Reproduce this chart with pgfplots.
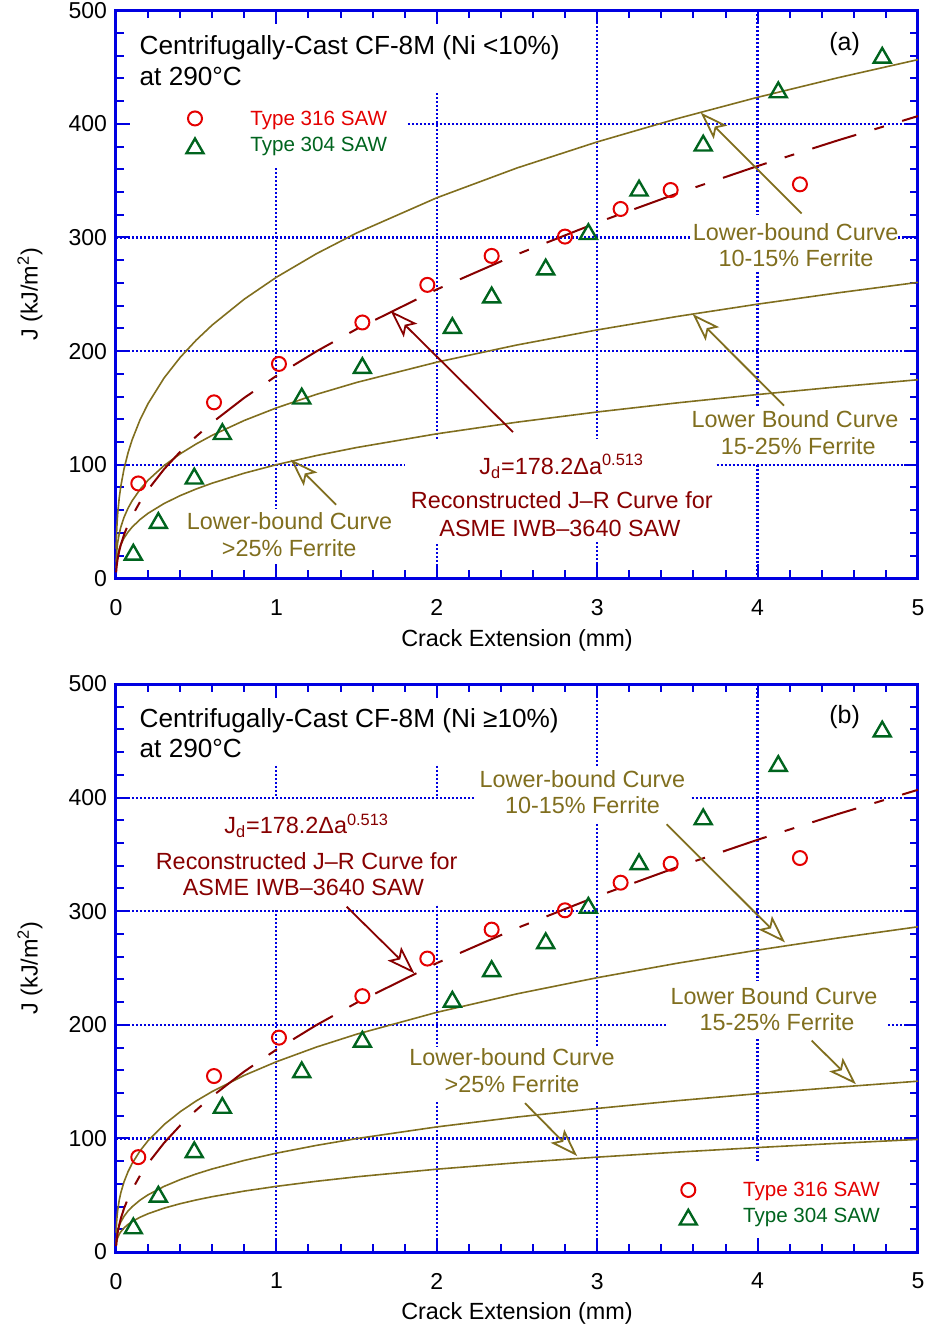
\documentclass[border=0pt]{standalone}
\usepackage{fontspec}
\setmainfont{Liberation Sans}
\usepackage{pgfplots}
\usepackage{pgfplotstable}
\pgfplotsset{compat=1.18}
\usetikzlibrary{arrows.meta}
\definecolor{myblue}{RGB}{0,0,225}
\definecolor{myred}{RGB}{228,0,0}
\definecolor{mygreen}{RGB}{0,100,30}
\definecolor{myolive}{RGB}{128,110,30}
\definecolor{mydred}{RGB}{135,0,0}

\pgfplotstableread{
x jr a b c d e f
0.001 5.15 25.66 14.03 9.10 16.79 8.31 5.72
0.002 7.35 32.43 17.80 11.57 21.15 10.52 7.21
0.005 11.76 44.21 24.37 15.91 28.69 14.36 9.80
0.01 16.78 55.88 30.91 20.23 36.14 18.18 12.36
0.02 23.95 70.62 39.21 25.73 45.53 23.01 15.59
0.03 29.49 81.01 45.05 29.62 52.10 26.41 17.85
0.05 38.32 96.28 53.68 35.36 61.77 31.42 21.19
0.075 47.18 110.42 61.69 40.71 70.70 36.06 24.27
0.1 54.69 121.68 68.09 44.98 77.80 39.77 26.73
0.15 67.34 139.56 78.25 51.77 89.06 45.65 30.61
0.2 78.05 153.81 86.37 57.21 98.01 50.34 33.71
0.3 96.09 176.39 99.25 65.85 112.18 57.77 38.62
0.4 111.38 194.42 109.55 72.76 123.46 63.71 42.52
0.5 124.87 209.65 118.26 78.62 132.98 68.73 45.82
0.6 137.13 222.97 125.89 83.76 141.30 73.13 48.71
0.8 158.92 245.75 138.95 92.55 155.51 80.64 53.64
1 178.2 265 150 100 167.5 87 57.8
1.25 199.81 285.75 161.93 108.05 180.42 93.86 62.28
1.5 219.40 303.94 172.39 115.11 191.71 99.86 66.21
2 254.29 334.96 190.25 127.19 210.98 110.13 72.91
2.5 285.14 361.20 205.39 137.44 227.26 118.80 78.57
3 313.10 384.15 218.64 146.40 241.48 126.39 83.51
3.5 338.83 404.69 230.52 154.45 254.22 133.21 87.94
4 362.89 423.41 241.32 161.77 265.76 139.38 91.96
4.5 385.48 440.60 251.27 168.53 276.41 145.08 95.67
5 406.88 456.57 260.51 174.80 286.29 150.37 99.10
}\curves

\pgfplotstableread{
x y
0.139 83.5
0.611 154.9
1.016 188.7
1.536 225.2
1.941 258.3
2.342 283.8
2.799 300.8
3.146 325.1
3.458 341.8
4.264 346.8
}\circdata

\pgfplotstableread{
x y
0.108 20.8
0.264 48.7
0.488 87.8
0.663 126.9
1.158 158.2
1.536 185.1
2.097 220.3
2.342 247.2
2.679 271.8
2.945 303.0
3.261 341.3
3.661 380.9
4.129 427.8
4.777 458.2
}\tridata

\pgfplotsset{
  jaxis/.style={
    anchor=south west,
    scale only axis, width=401pt, height=284pt,
    xmin=0, xmax=5, ymin=0, ymax=500,
    xtick={0,1,2,3,4,5}, ytick={0,100,200,300,400,500},
    minor x tick num=4, minor y tick num=4,
    tick pos=both,
    tick align=inside, major tick length=7pt, minor tick length=4pt,
    axis line style={draw=myblue, line width=1.5pt},
    every tick/.style={myblue, line width=1pt},
    tick label style={font=\fontsize{11.5}{13}\selectfont, text=black},
    /pgf/number format/assume math mode=true,
    xticklabel shift=7pt,
    yticklabel shift=1pt,
    xlabel={Crack Extension (mm)},
    ylabel={J (kJ/m\textsuperscript{2})},
    label style={font=\fontsize{11.7}{14}\selectfont},
    xlabel style={at={(axis description cs:0.5,-0.109)}, anchor=center},
    ylabel style={at={(axis description cs:-0.1072,0.5)}, anchor=center},
    clip=false,
  },
  olivecurve/.style={myolive, line width=0.8pt, no marks},
  jrcurve/.style={mydred, line width=1pt, no marks, dash pattern=on 23pt off 9.5pt on 5pt off 9.5pt},
  circ/.style={only marks, mark=o, mark size=3.5pt, myred, mark options={line width=1pt}},
  tri/.style={only marks, mark=triangle, mark size=4.9pt, mygreen, mark options={line width=1.2pt}},
}
\tikzset{
  gl/.style={myblue, line width=1.1pt, dash pattern=on 1pt off 1pt},
  oarr/.style={myolive, line width=0.9pt, -{Stealth[open, length=14pt, width=9.5pt, inset=3pt]}},
  rarr/.style={mydred, line width=0.9pt, -{Stealth[open, length=14pt, width=9.5pt, inset=3pt]}},
  ann/.style={font=\fontsize{11.7}{14}\selectfont, anchor=base, inner sep=0pt},
  ttl/.style={font=\fontsize{13.1}{15}\selectfont, anchor=base west, inner sep=0pt},
  leg/.style={font=\fontsize{10.3}{12}\selectfont, anchor=base west, inner sep=0pt},
}

\begin{document}
\begin{tikzpicture}
\path[use as bounding box] (-58pt,-374.35pt) rectangle (408pt,289.15pt);

% ---------------- panel (a) ----------------
\begin{axis}[jaxis, at={(0pt,0pt)}]
% grid segments
\draw[gl] (axis cs:1,361) -- (axis cs:1,60.6);
\draw[gl] (axis cs:2,427) -- (axis cs:2,122);
\draw[gl] (axis cs:2,30) -- (axis cs:2,0);
\draw[gl] (axis cs:3,500) -- (axis cs:3,123);
\draw[gl] (axis cs:3,31.6) -- (axis cs:3,0);
\draw[gl] (axis cs:4,500) -- (axis cs:4,320);
\draw[gl] (axis cs:4,270) -- (axis cs:4,151.4);
\draw[gl] (axis cs:4,100) -- (axis cs:4,0);
\draw[gl] (axis cs:0,100) -- (axis cs:1.80,100);
\draw[gl] (axis cs:3.745,100) -- (axis cs:5,100);
\draw[gl] (axis cs:0,200) -- (axis cs:5,200);
\draw[gl] (axis cs:0,300) -- (axis cs:3.58,300);
\draw[gl] (axis cs:4.875,300) -- (axis cs:5,300);
\draw[gl] (axis cs:1.82,400) -- (axis cs:5,400);

\addplot[olivecurve] table[x=x,y=a] {\curves};
\addplot[olivecurve] table[x=x,y=b] {\curves};
\addplot[olivecurve] table[x=x,y=c] {\curves};
\addplot[jrcurve] table[x=x,y=jr] {\curves};
\addplot[circ] table[x=x,y=y] {\circdata};
\addplot[tri] table[x=x,y=y] {\tridata};
% legend
\addplot[circ] coordinates {(0.4925,404.8)};
\addplot[tri] coordinates {(0.4925,378.5)};
\node[leg, text=myred] at (axis cs:0.835,399) {Type 316 SAW};
\node[leg, text=mygreen] at (axis cs:0.835,375.5) {Type 304 SAW};

\node[ttl] at (axis cs:0.145,461) {Centrifugally-Cast CF-8M (Ni <10\%)};
\node[ttl] at (axis cs:0.145,434) {at 290°C};
\node[ann, font=\fontsize{12.5}{14}\selectfont] at (axis cs:4.543,464.9) {(a)};

\node[ann, text=myolive] at (axis cs:4.237,297.3) {Lower-bound Curve};
\node[ann, text=myolive] at (axis cs:4.239,274.4) {10-15\% Ferrite};
\node[ann, text=myolive] at (axis cs:4.233,132.4) {Lower Bound Curve};
\node[ann, text=myolive] at (axis cs:4.254,109) {15-25\% Ferrite};
\node[ann, text=myolive] at (axis cs:1.082,43.1) {Lower-bound Curve};
\node[ann, text=myolive] at (axis cs:1.08,19.6) {>25\% Ferrite};
\node[ann, text=mydred] at (axis cs:2.779,91.4) {J\textsubscript{d}=178.2Δa\textsuperscript{0.513}};
\node[ann, text=mydred] at (axis cs:2.779,61.2) {Reconstructed J–R Curve for};
\node[ann, text=mydred] at (axis cs:2.768,37.2) {ASME IWB–3640 SAW};

\draw[oarr] (axis cs:4.275,321.1) -- (axis cs:3.645,410);
\draw[oarr] (axis cs:4.165,152) -- (axis cs:3.595,232.6);
\draw[oarr] (axis cs:1.372,64.8) -- (axis cs:1.089,104.6);
\draw[rarr] (axis cs:2.475,128.7) -- (axis cs:1.712,235.5);
\end{axis}

% ---------------- panel (b) ----------------
\begin{axis}[jaxis, at={(0pt,-336.85pt)}]
\draw[gl] (axis cs:1,428) -- (axis cs:1,400.3);
\draw[gl] (axis cs:1,301) -- (axis cs:1,0);
\draw[gl] (axis cs:2,428) -- (axis cs:2,400.3);
\draw[gl] (axis cs:2,305) -- (axis cs:2,181.6);
\draw[gl] (axis cs:2,131.8) -- (axis cs:2,0);
\draw[gl] (axis cs:3,500) -- (axis cs:3,428);
\draw[gl] (axis cs:3,376.8) -- (axis cs:3,181.6);
\draw[gl] (axis cs:3,131.8) -- (axis cs:3,0);
\draw[gl] (axis cs:4,500) -- (axis cs:4,238.8);
\draw[gl] (axis cs:4,187.5) -- (axis cs:4,79);
\draw[gl] (axis cs:0,400) -- (axis cs:2.237,400);
\draw[gl] (axis cs:3.589,400) -- (axis cs:5,400);
\draw[gl] (axis cs:0,300) -- (axis cs:5,300);
\draw[gl] (axis cs:0,200) -- (axis cs:3.433,200);
\draw[gl] (axis cs:4.815,200) -- (axis cs:5,200);
\draw[gl] (axis cs:0,100) -- (axis cs:5,100);

\addplot[olivecurve] table[x=x,y=d] {\curves};
\addplot[olivecurve] table[x=x,y=e] {\curves};
\addplot[olivecurve] table[x=x,y=f] {\curves};
\addplot[jrcurve] table[x=x,y=jr] {\curves};
\addplot[circ] table[x=x,y=y] {\circdata};
\addplot[tri] table[x=x,y=y] {\tridata};
% legend
\addplot[circ] coordinates {(3.568,54.6)};
\addplot[tri] coordinates {(3.568,28.5)};
\node[leg, text=myred] at (axis cs:3.907,49) {Type 316 SAW};
\node[leg, text=mygreen] at (axis cs:3.907,26) {Type 304 SAW};

\node[ttl] at (axis cs:0.145,461.5) {Centrifugally-Cast CF-8M (Ni ≥10\%)};
\node[ttl] at (axis cs:0.145,435) {at 290°C};
\node[ann, font=\fontsize{12.5}{14}\selectfont] at (axis cs:4.543,464.9) {(b)};

\node[ann, text=mydred] at (axis cs:1.189,368) {J\textsubscript{d}=178.2Δa\textsuperscript{0.513}};
\node[ann, text=mydred] at (axis cs:1.189,337.1) {Reconstructed J–R Curve for};
\node[ann, text=mydred] at (axis cs:1.168,313.6) {ASME IWB–3640 SAW};
\node[ann, text=myolive] at (axis cs:2.908,409) {Lower-bound Curve};
\node[ann, text=myolive] at (axis cs:2.908,385.6) {10-15\% Ferrite};
\node[ann, text=myolive] at (axis cs:4.103,218.3) {Lower Bound Curve};
\node[ann, text=myolive] at (axis cs:4.121,194.8) {15-25\% Ferrite};
\node[ann, text=myolive] at (axis cs:2.469,164) {Lower-bound Curve};
\node[ann, text=myolive] at (axis cs:2.469,140.6) {>25\% Ferrite};

\draw[rarr] (axis cs:1.438,304) -- (axis cs:1.86,245.3);
\draw[oarr] (axis cs:3.433,376.5) -- (axis cs:4.171,272.5);
\draw[oarr] (axis cs:4.337,186.1) -- (axis cs:4.613,147.7);
\draw[oarr] (axis cs:2.55,131.0) -- (axis cs:2.875,84.5);
\end{axis}
\end{tikzpicture}
\end{document}
